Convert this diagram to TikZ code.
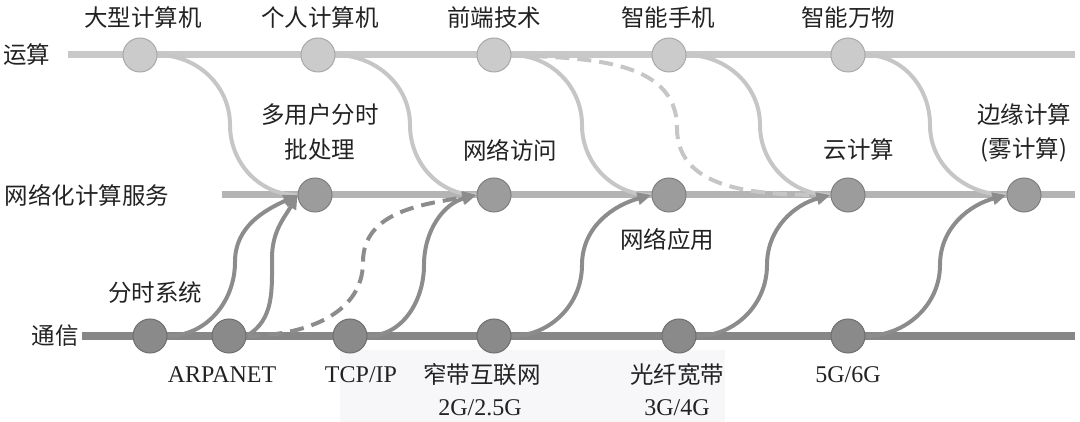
\documentclass[tikz,border=0pt]{standalone}
\usepackage{fontspec}
\setmainfont{Liberation Serif}
\newfontfamily\cjk{Noto Sans CJK SC}
\usetikzlibrary{arrows.meta}
\pgfdeclarelayer{bg}
\pgfsetlayers{bg,main}
\definecolor{toptrack}{HTML}{C8C8C8}
\definecolor{midtrack}{HTML}{B4B4B4}
\definecolor{bottrack}{HTML}{878787}
\definecolor{topfill}{HTML}{CBCBCB}
\definecolor{topdraw}{HTML}{A9A9A9}
\definecolor{midfill}{HTML}{9C9C9C}
\definecolor{middraw}{HTML}{7E7E7E}
\definecolor{botfill}{HTML}{8A8A8A}
\definecolor{botdraw}{HTML}{6F6F6F}
\definecolor{lightc}{HTML}{C6C6C6}
\definecolor{darkc}{HTML}{8C8C8C}
\definecolor{txt}{HTML}{222222}
\definecolor{panel}{HTML}{F7F7FA}
\begin{document}
\begin{tikzpicture}[x=1pt,y=-1pt,
  track/.style={line width=7pt},
  tnode/.style={circle,minimum size=34pt,inner sep=0pt,fill=topfill,draw=topdraw,line width=1pt},
  mnode/.style={circle,minimum size=34pt,inner sep=0pt,fill=midfill,draw=middraw,line width=1pt},
  bnode/.style={circle,minimum size=34pt,inner sep=0pt,fill=botfill,draw=botdraw,line width=1pt},
  lightcurve/.style={draw=lightc,line width=4pt},
  darkcurve/.style={draw=darkc,line width=4pt,-{Triangle[length=14pt,width=12pt]}},
  lbl/.style={font=\cjk\fontsize{23.5}{27}\selectfont,text=txt,inner sep=0pt},
  lat/.style={font=\fontsize{24}{28}\selectfont,text=txt,inner sep=0pt}]
\useasboundingbox (0,0) rectangle (1080,422);

% nodes
\node[tnode] (t1) at (140,55) {};
\node[tnode] (t2) at (318,55) {};
\node[tnode] (t3) at (494,55) {};
\node[tnode] (t4) at (669,55) {};
\node[tnode] (t5) at (848,55) {};
\node[mnode] (m1) at (315,195) {};
\node[mnode] (m2) at (494,195) {};
\node[mnode] (m3) at (669,195) {};
\node[mnode] (m4) at (848,195) {};
\node[mnode] (m5) at (1024,195) {};
\node[bnode] (b1) at (150,336) {};
\node[bnode] (b2) at (229,336) {};
\node[bnode] (b3) at (350,336) {};
\node[bnode] (b4) at (494,336) {};
\node[bnode] (b5) at (679,336) {};
\node[bnode] (b6) at (848,336) {};

\coordinate (ts) at (68,55);  \coordinate (te) at (1075,55);
\coordinate (ms) at (222,195); \coordinate (me) at (1075,195);
\coordinate (bs) at (82,336); \coordinate (be) at (1075,336);

\begin{pgfonlayer}{bg}
\fill[panel] (340,350) rectangle (725,422);
\draw[track,toptrack] (ts) -- (te);
\draw[track,midtrack] (ms) -- (me);
\draw[track,bottrack,line width=8pt] (bs) -- (be);
% light curves (computing -> networked services)
\draw[lightcurve] (t1.east) to[out=0,in=90] (230,125) to[out=-90,in=180] (m1.west);
\draw[lightcurve] (t2.east) to[out=0,in=90] (410,125) to[out=-90,in=180] (m2.west);
\draw[lightcurve] (t3.east) to[out=0,in=90] (582,125) to[out=-90,in=180] (m3.west);
\draw[lightcurve,dashed,dash pattern=on 14pt off 8pt] (t3.east) to[out=-3,in=90] (677,128) to[out=-90,in=180] (m4.west);
\draw[lightcurve] (t4.east) to[out=0,in=90] (760,125) to[out=-90,in=180] (m4.west);
\draw[lightcurve] (t5.east) to[out=0,in=90] (930,125) to[out=-90,in=180] (m5.west);
% dark curves (communication -> networked services)
\draw[darkcurve] (b1.east) to[out=0,in=-90] (235,262) to[out=90,in=205] (m1.west);
\draw[darkcurve] (b2.east) to[out=30,in=-90] (272,258) to[out=90,in=240] (m1.west);
\draw[darkcurve,dashed,dash pattern=on 14pt off 8pt] (b2.east) to[out=0,in=-90] (363,262) to[out=90,in=190] (m2.west);
\draw[darkcurve] (b3.east) to[out=0,in=-90] (424,265) to[out=90,in=195] (m2.west);
\draw[darkcurve] (b4.east) to[out=0,in=-90] (582,265) to[out=90,in=195] (m3.west);
\draw[darkcurve] (b5.east) to[out=0,in=-90] (767,265) to[out=90,in=195] (m4.west);
\draw[darkcurve] (b6.east) to[out=0,in=-90] (940,265) to[out=90,in=195] (m5.west);
\end{pgfonlayer}

% row labels
\node[lbl] (r1) at (27,55) {运算};
\node[lbl] (r2) at (87,195) {网络化计算服务};
\node[lbl] (r3) at (55,336) {通信};

% top labels
\node[lbl] (lt1) at (143,18) {大型计算机};
\node[lbl] (lt2) at (320,18) {个人计算机};
\node[lbl] (lt3) at (494,18) {前端技术};
\node[lbl] (lt4) at (668,18) {智能手机};
\node[lbl] (lt5) at (848,18) {智能万物};

% middle labels
\node[lbl] (lm1a) at (320,115) {多用户分时};
\node[lbl] (lm1b) at (320,150) {批处理};
\node[lbl] (lm2) at (510,150) {网络访问};
\node[lbl] (lm3) at (667,240) {网络应用};
\node[lbl] (lm4) at (859,150) {云计算};
\node[lbl] (lm5a) at (1024,115) {边缘计算};
\node[lbl] (lm5b) at (1024,150) {(雾计算)};

% bottom labels
\node[lbl] (lb1) at (155,293) {分时系统};
\node[lat] (lb2) at (222,375) {ARPANET};
\node[lat] (lb3) at (361,375) {TCP/IP};
\node[lbl] (lb4a) at (482,375) {窄带互联网};
\node[lat] (lb4b) at (480,408) {2G/2.5G};
\node[lbl] (lb5a) at (677,375) {光纤宽带};
\node[lat] (lb5b) at (677,408) {3G/4G};
\node[lat] (lb6) at (848,375) {5G/6G};
\end{tikzpicture}
\end{document}
